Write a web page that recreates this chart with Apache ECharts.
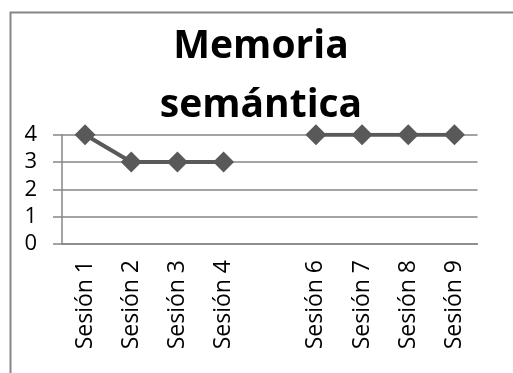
<!DOCTYPE html>
<html>
<head>
<meta charset="utf-8">
<script src="https://cdn.jsdelivr.net/npm/echarts@6/dist/echarts.min.js"></script>
<style>
  html, body { margin: 0; padding: 0; background: #fff; }
  #chart { width: 513px; height: 373px; }
</style>
</head>
<body>
<div id="chart"></div>
<script>
// Sessions on the horizontal axis (session 5 has no record)
const sessions = ['Sesión 1', 'Sesión 2', 'Sesión 3', 'Sesión 4', '', 'Sesión 6', 'Sesión 7', 'Sesión 8', 'Sesión 9'];
// Semantic memory score per session
const scores = [4, 3, 3, 3, null, 4, 4, 4, 4];
const yTicks = [0, 1, 2, 3, 4];

const FONT = '"Open Sans", "Noto Sans", sans-serif';
const GRID_COLOR = '#868686';

const chart = echarts.init(document.getElementById('chart'), null, { renderer: 'canvas' });
chart.setOption({
  animation: false,
  backgroundColor: '#ffffff',
  graphic: [{
    type: 'rect',
    left: 8, top: 10,
    shape: { width: 600, height: 500 },
    style: { fill: 'none', stroke: '#858585', lineWidth: 2 },
    silent: true, z: -1
  }],
  title: {
    text: 'Memoria\nsemántica',
    left: 256, top: 12,
    textAlign: 'center',
    textStyle: { fontFamily: FONT, fontSize: 39, fontWeight: 'bold', color: '#000', lineHeight: 59 }
  },
  grid: { left: 62, right: 35.5, top: 134.7, bottom: 129, containLabel: false },
  xAxis: {
    type: 'category',
    data: sessions,
    boundaryGap: true,
    axisLine: { lineStyle: { color: GRID_COLOR, width: 1.5 } },
    axisTick: { length: 7, lineStyle: { color: GRID_COLOR, width: 1.5 } },
    axisLabel: { rotate: 90, margin: 16, fontFamily: FONT, fontSize: 23, color: '#000', interval: 0 },
    splitLine: { show: false }
  },
  yAxis: {
    type: 'value',
    min: yTicks[0], max: yTicks[yTicks.length - 1], interval: 1,
    axisLine: { show: true, lineStyle: { color: GRID_COLOR, width: 1.5 } },
    axisTick: { show: true, length: 9, lineStyle: { color: GRID_COLOR, width: 1.5 } },
    axisLabel: { margin: 25, fontFamily: FONT, fontSize: 22, color: '#000' },
    splitLine: { show: true, lineStyle: { color: GRID_COLOR, width: 1.5 } }
  },
  series: [{
    type: 'line',
    data: scores,
    connectNulls: false,
    symbol: 'diamond',
    symbolSize: 21,
    lineStyle: { color: '#595959', width: 4 },
    itemStyle: { color: '#595959' }
  }]
});
</script>
</body>
</html>
